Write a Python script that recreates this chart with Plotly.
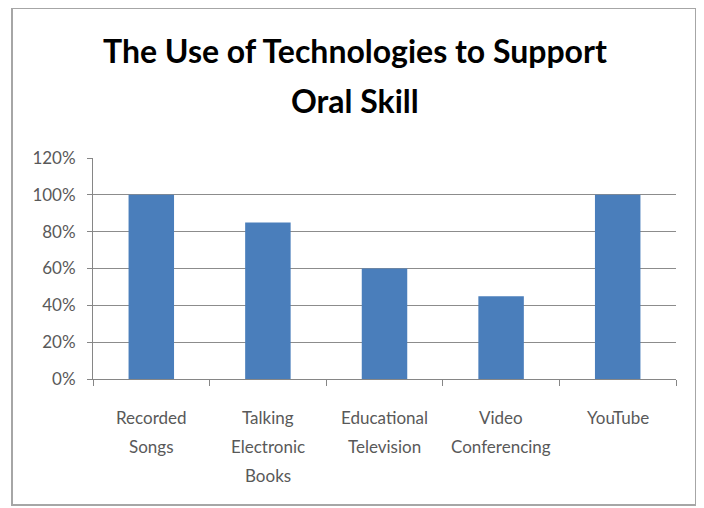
import plotly.graph_objects as go

categories = ["Recorded Songs", "Talking Electronic Books", "Educational Television",
              "Video Conferencing", "YouTube"]
category_lines = [["Recorded", "Songs"], ["Talking", "Electronic", "Books"],
                  ["Educational", "Television"], ["Video", "Conferencing"], ["YouTube"]]
values = [1.00, 0.85, 0.60, 0.45, 1.00]
y_ticks = [0, 0.2, 0.4, 0.6, 0.8, 1.0, 1.2]
y_tick_labels = ["0%", "20%", "40%", "60%", "80%", "100%", "120%"]
title_lines = ["The Use of Technologies to Support", "Oral Skill"]

FONT = "Lato, Liberation Sans, sans-serif"

# page pixel geometry (page has 8px body offset)
PL, PR, PT, PB = 93, 676, 158, 379
PW, PH = PR - PL, PB - PT

def py(page_y):
    return (PB - page_y) / PH

def px(page_x):
    return (page_x - PL) / PW

fig = go.Figure(go.Bar(x=categories, y=values, marker=dict(color="#4A7EBB", line=dict(width=0)),
                       width=0.39))

fig.update_layout(
    width=696, height=500,
    margin=dict(l=PL - 8, r=704 - PR, t=PT - 8, b=508 - PB),
    paper_bgcolor="white", plot_bgcolor="white",
    showlegend=False,
    font=dict(family=FONT, size=15, color="#595959"),
)
fig.update_xaxes(showline=True, linecolor="#868686", linewidth=1,
                 ticks="outside", tickson="boundaries", ticklen=6, tickcolor="#868686",
                 showticklabels=False, showgrid=False)
fig.update_yaxes(range=[0, 1.2], tickvals=y_ticks, ticktext=y_tick_labels,
                 showline=True, linecolor="#868686", linewidth=1,
                 ticks="outside", ticklen=5, tickcolor="#868686", ticklabelstandoff=8,
                 showgrid=True, gridcolor="#8C8C8C", gridwidth=1, zeroline=False,
                 tickfont=dict(size=17, color="#595959"))

# title lines
for text, yy in zip(title_lines, [51, 100]):
    fig.add_annotation(text=text, xref="paper", yref="paper", x=px(355), y=py(yy),
                       xanchor="center", yanchor="middle", showarrow=False,
                       font=dict(family=FONT, size=32, color="black", weight="bold"))

# category labels (multi-line, Excel-like line spacing)
line_ys = [417, 446, 475]
for cat, lines in zip(categories, category_lines):
    for i, ln in enumerate(lines):
        fig.add_annotation(text=ln, x=cat, xref="x", yref="paper", y=py(line_ys[i]),
                           xanchor="center", yanchor="middle", showarrow=False,
                           font=dict(family=FONT, size=17, color="#595959"))

fig.add_shape(type="rect", xref="paper", yref="paper",
              x0=px(12), x1=px(696), y0=py(505), y1=py(8),
              line=dict(color="#A6A6A6", width=2), fillcolor="rgba(0,0,0,0)", layer="below")

fig.write_html("out.html")
